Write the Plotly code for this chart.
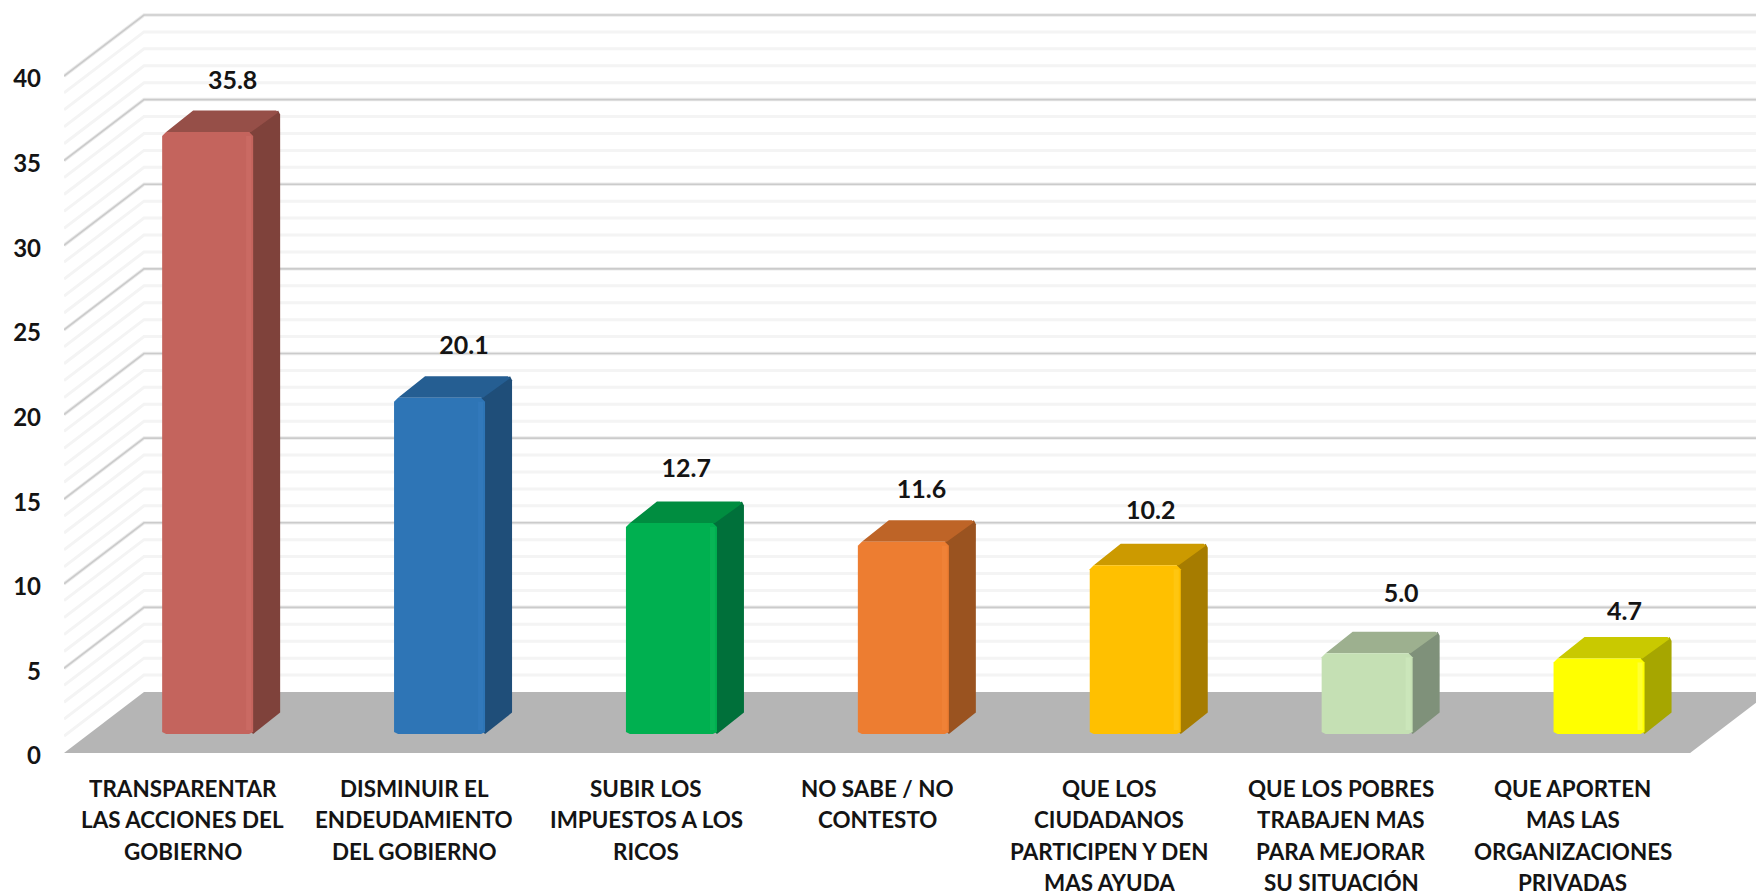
import plotly.graph_objects as go

categories = [
    ["TRANSPARENTAR", "LAS ACCIONES DEL", "GOBIERNO"],
    ["DISMINUIR EL", "ENDEUDAMIENTO", "DEL GOBIERNO"],
    ["SUBIR LOS", "IMPUESTOS A LOS", "RICOS"],
    ["NO SABE / NO", "CONTESTO"],
    ["QUE LOS", "CIUDADANOS", "PARTICIPEN Y DEN", "MAS AYUDA"],
    ["QUE LOS POBRES", "TRABAJEN MAS", "PARA MEJORAR", "SU SITUACIÓN"],
    ["QUE APORTEN", "MAS LAS", "ORGANIZACIONES", "PRIVADAS"],
]
values = [35.8, 20.1, 12.7, 11.6, 10.2, 5.0, 4.7]
value_labels = ["35.8", "20.1", "12.7", "11.6", "10.2", "5.0", "4.7"]
front_colors = ["#c4645d", "#2e75b6", "#00b050", "#ed7d31", "#ffc000", "#c5e0b4", "#ffff00"]
top_colors = ["#964f48", "#255e92", "#008d40", "#be6427", "#cc9a00", "#9db08f", "#c9c900"]
side_colors = ["#7f423b", "#1f4e79", "#00703a", "#9a5320", "#a67c00", "#7f917a", "#a6a600"]
edge_colors = ["#ca6a63", "#3279bb", "#08b556", "#f08237", "#ffc610", "#cbe6ba", "#ffff30"]
# hand placement of the value labels in the source chart (pixels)
label_nudge_x = [1, 0, -10, -7, -10, 8, -1]
label_nudge_y = [1, 2, 4.5, 2, 4.5, 10, -3]
y_ticks = [0, 5, 10, 15, 20, 25, 30, 35, 40]
minor_levels = list(range(1, 41))

FONT = "Lato"
TEXT = "#141414"
FIG_W, FIG_H = 1756, 896
LEFT, BOTTOM = 64, 143
PX_PER_CAT = 232.3
PX_PER_UNIT = 16.925
PX, PY = 1 / PX_PER_CAT, 1 / PX_PER_UNIT
X_MIN = -0.5
X_MAX = X_MIN + (FIG_W - LEFT) * PX
Y_MAX = (FIG_H - BOTTOM) * PY
# oblique depth of the box
DX, DY = 80 * PX, 61 * PY
BACK_RIGHT = 6.5 + DX
# bar placement inside each category band
BAR_W = 91 * PX
BAR_PITCH_TRIM = 0.4 * PX
OFF_X, OFF_Y = 27.5 * PX, 19 * PY
BAR_DX, BAR_DY = 27 * PX, 21.5 * PY
BEVEL = 4 * PY
R_X, R_Y = 4 * PX, 4 * PY

fig = go.Figure()


def poly(xs, ys, color):
    fig.add_trace(go.Scatter(x=xs, y=ys, mode="lines", fill="toself", fillcolor=color,
                             line=dict(width=0, color=color), hoverinfo="skip", showlegend=False))


def grid(levels, color, width):
    xs, ys = [], []
    for v in levels:
        xs += [X_MIN, X_MIN + DX, BACK_RIGHT, None]
        ys += [v, v + DY, v + DY, None]
    fig.add_trace(go.Scatter(x=xs, y=ys, mode="lines", line=dict(color=color, width=width),
                             hoverinfo="skip", showlegend=False))


grid([m for m in minor_levels if m not in y_ticks], "#f4f4f4", 3)
grid(y_ticks[1:], "#ececec", 3.5)
grid(y_ticks[1:], "#cbcbcb", 1.6)

# floor
poly([X_MIN, 6.5, BACK_RIGHT, X_MIN + DX, X_MIN], [0, 0, DY, DY, 0], "#b5b5b5")

# bars
for i, v in enumerate(values):
    x0 = i - BAR_W / 2 + OFF_X - BAR_PITCH_TRIM * i
    x1 = x0 + BAR_W
    y0 = OFF_Y
    y1 = OFF_Y + v - BEVEL
    # side face (runs behind the front so the softened corner stays filled)
    poly([x1 - R_X, x1, x1 + BAR_DX, x1 + BAR_DX, x1 + BAR_DX - R_X / 2, x1 - R_X, x1 - R_X],
         [y0 + R_Y, y0, y0 + BAR_DY, y1 + BAR_DY - R_Y, y1 + BAR_DY, y1, y0 + R_Y], side_colors[i])
    # top face
    poly([x0, x0 + R_X, x0 + BAR_DX + R_X, x1 + BAR_DX - R_X, x1 + BAR_DX - R_X / 2, x1 - R_X / 2, x0 + R_X, x0],
         [y1 - R_Y, y1, y1 + BAR_DY, y1 + BAR_DY, y1 + BAR_DY - R_Y / 2, y1, y1, y1 - R_Y],
         top_colors[i])
    # front face with softened corners
    poly([x0, x0, x0 + R_X, x1 - R_X, x1, x1, x1 - R_X, x0 + R_X, x0],
         [y0 + R_Y / 2, y1 - R_Y, y1, y1, y1 - R_Y, y0 + R_Y / 2, y0, y0, y0 + R_Y / 2],
         front_colors[i])
    # bevel highlight along the right edge
    poly([x1 - 7 * PX, x1 - 7 * PX, x1 - 2 * PX, x1 - 2 * PX],
         [y0 + R_Y, y1 - R_Y, y1 - R_Y, y0 + R_Y], edge_colors[i])

# value labels
LABEL_GAP = 14 * PY
fig.add_trace(go.Scatter(
    x=[i + OFF_X + (24 + label_nudge_x[i]) * PX for i in range(len(values))],
    y=[OFF_Y + v - BEVEL + BAR_DY + LABEL_GAP + label_nudge_y[i] * PY for i, v in enumerate(values)],
    text=value_labels, mode="text", textposition="top center",
    textfont=dict(family=FONT, size=25, color=TEXT, weight="bold"),
    hoverinfo="skip", showlegend=False))

annotations = []
for i, lines in enumerate(categories):
    for j, line in enumerate(lines):
        annotations.append(dict(
            x=i, y=0, xref="x", yref="y", text=line, showarrow=False,
            xanchor="center", yanchor="middle", xshift=2.5 - 0.6 * i, yshift=-34.5 - 31.6 * j,
            height=24, font=dict(family=FONT, size=22.4, color=TEXT, weight="bold")))

fig.update_layout(
    width=FIG_W, height=FIG_H,
    margin=dict(l=LEFT, r=0, t=0, b=BOTTOM, pad=0),
    paper_bgcolor="#ffffff", plot_bgcolor="#ffffff",
    showlegend=False, annotations=annotations,
    xaxis=dict(range=[X_MIN, X_MAX], showgrid=False, zeroline=False, showline=False,
               showticklabels=False, ticks="", fixedrange=True),
    yaxis=dict(range=[0, Y_MAX], tickvals=y_ticks, ticktext=[str(t) for t in y_ticks],
               showgrid=False, zeroline=False, showline=False, ticks="",
               ticklabelstandoff=22, ticklabelshift=3, fixedrange=True,
               tickfont=dict(family=FONT, size=24, color=TEXT, weight="bold")),
)
fig.write_html("out.html", config={"displayModeBar": False},
               post_script="document.body.style.margin='0';document.documentElement.style.overflow='hidden';")
